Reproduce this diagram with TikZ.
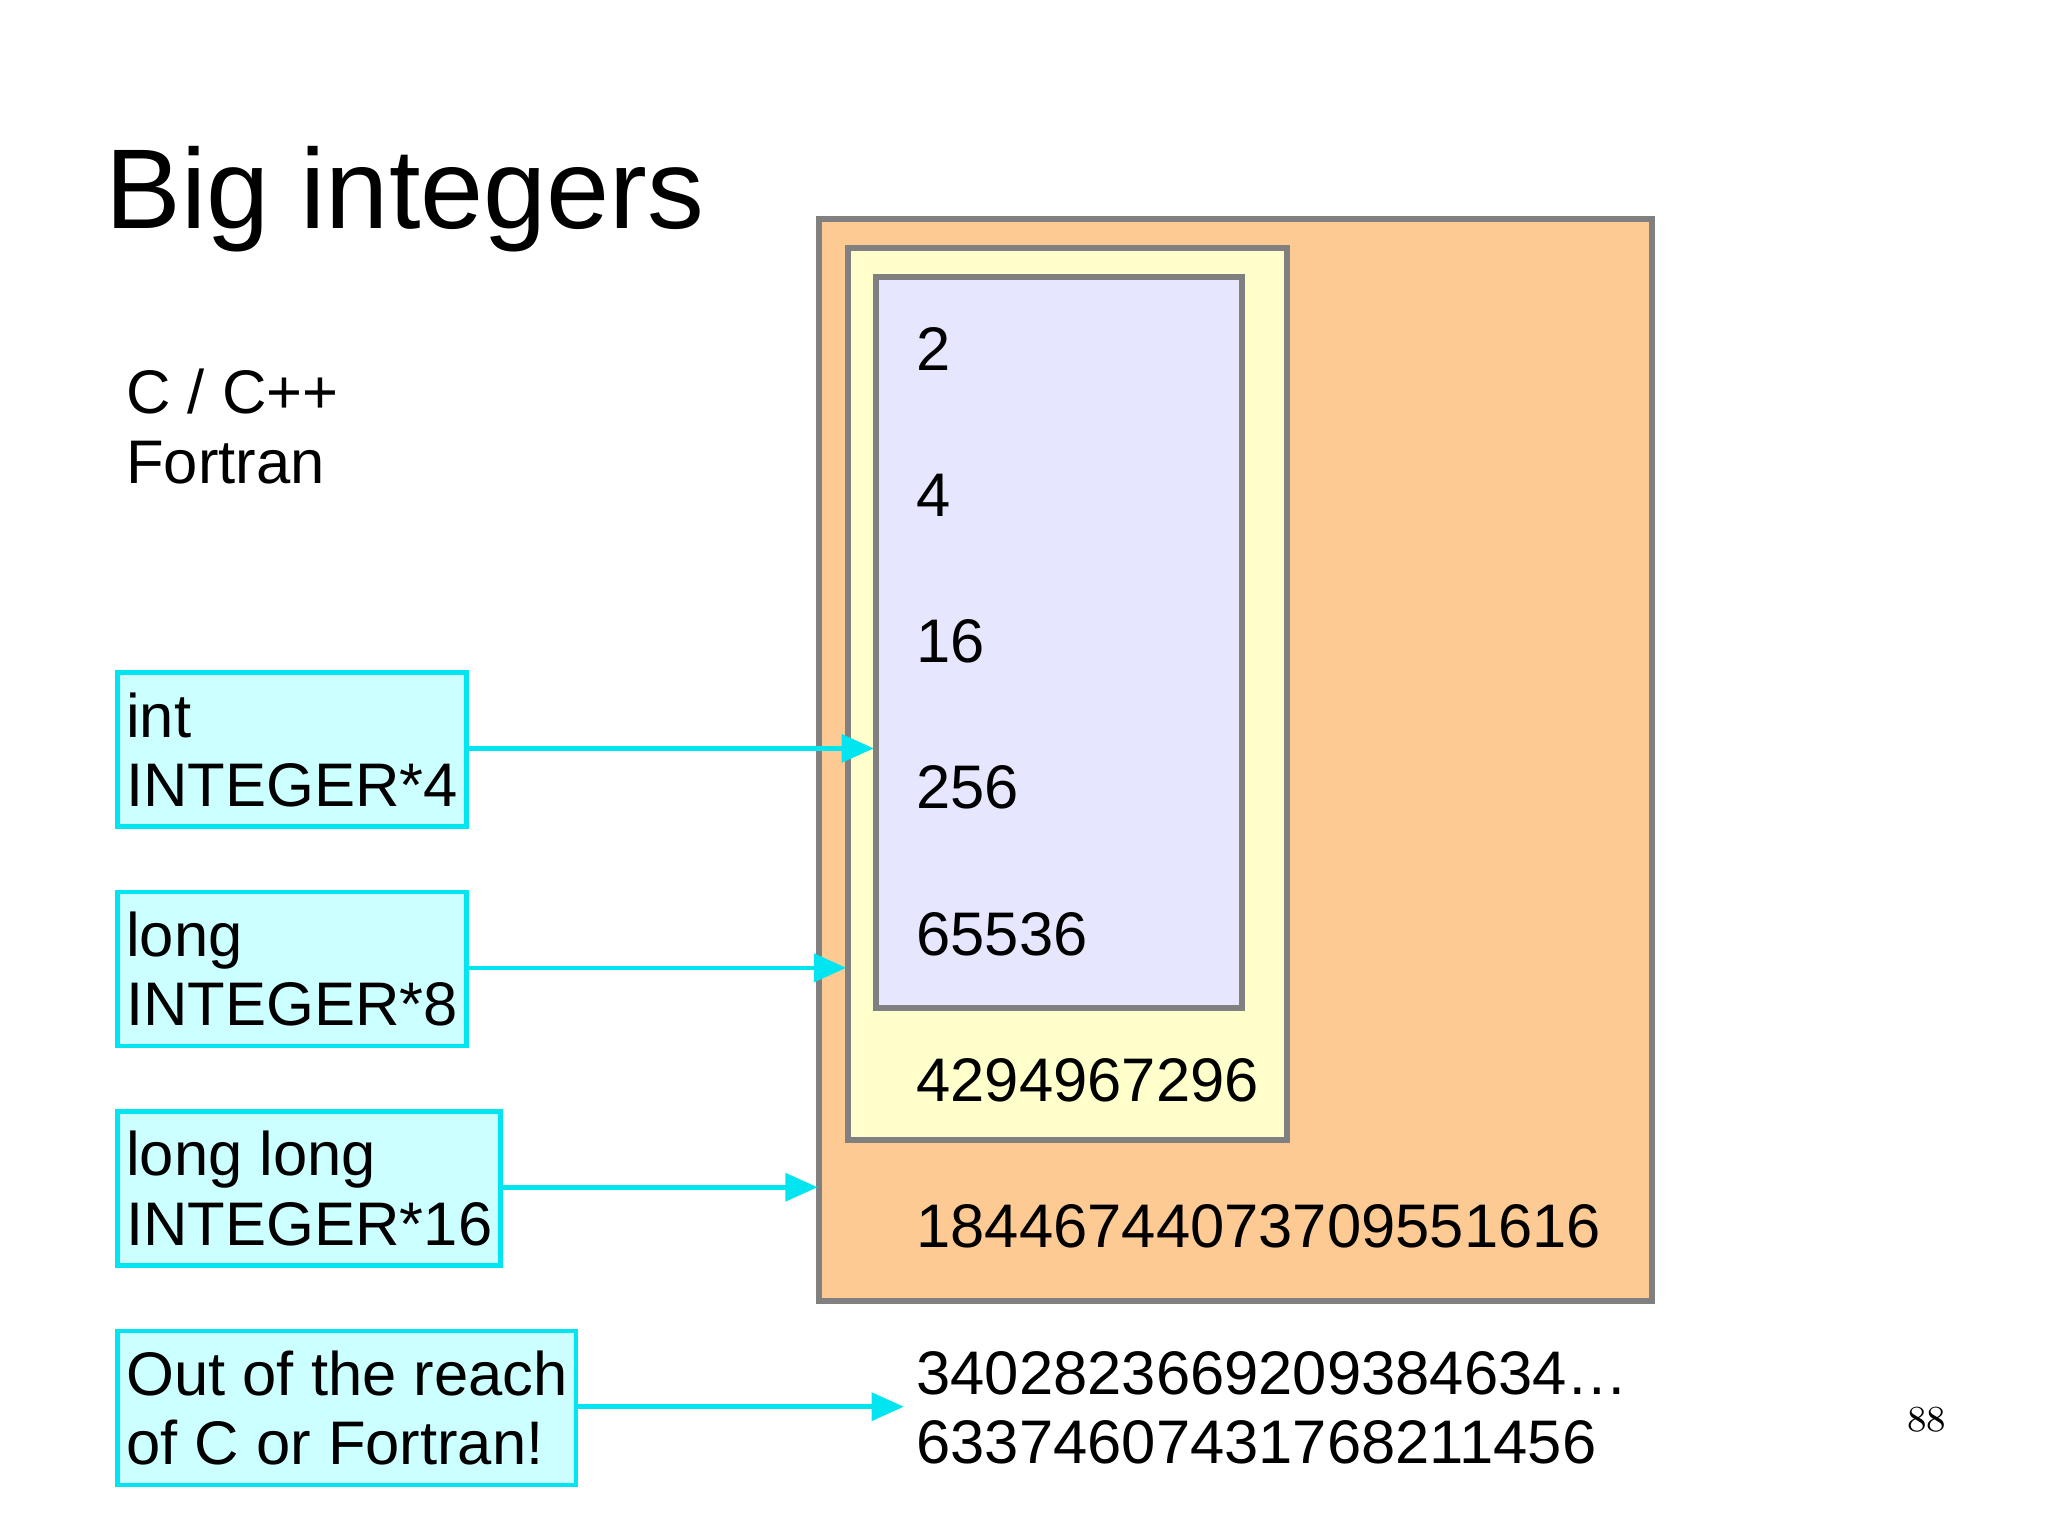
\documentclass[tikz,border=0pt]{standalone}
\usepackage{fontspec}
\setmainfont{Liberation Sans}
\usetikzlibrary{arrows.meta}
\definecolor{orng}{HTML}{FDCA94}
\definecolor{yel}{HTML}{FFFFCC}
\definecolor{lav}{HTML}{E6E6FF}
\definecolor{cyb}{HTML}{CCFFFF}
\definecolor{cyl}{HTML}{00E5F0}
\definecolor{brd}{HTML}{808080}
\begin{document}
\begin{tikzpicture}[x=0.01cm,y=-0.01cm,
  box/.style={draw=brd,line width=1.3pt},
  lab/.style={draw=cyl,fill=cyb,line width=1pt,anchor=north west,inner sep=0pt},
  txt/.style={font=\fontsize{13.4}{15.1}\selectfont,anchor=west,inner sep=0pt,align=left},
  arr/.style={draw=cyl,line width=1pt,-{Triangle[length=7pt,width=6pt]}}]
\useasboundingbox (0,0) rectangle (1568,1176);
\node[anchor=base west,inner sep=0pt,font=\fontsize{24.7}{26}\selectfont] (title) at (80,175) {Big integers};
\node[txt,anchor=north west] (lang) at (96,282) {C / C++\\Fortran};
\draw[box,fill=orng] (627,168) rectangle (1265,996);
\draw[box,fill=yel] (649,190) rectangle (985,873);
\draw[box,fill=lav] (671,212) rectangle (951,772);
\coordinate (tint) at (669,573);
\coordinate (tlong) at (648,741);
\coordinate (tll) at (626,909);
\coordinate (tout) at (692,1077);
\foreach \n/\y/\t in {a/267/2,b/379/4,c/491/16,d/603/256,e/715/65536,f/827/4294967296,g/939/18446744073709551616}
  \node[txt] (n\n) at (701,\y) {\t};
\node[txt] (nh) at (701,1078) {3402823669209384634\ldots\\63374607431768211456};
\path[lab] (90,515) rectangle (357,633);
\path[lab] (90,683) rectangle (357,801);
\path[lab] (90,851) rectangle (383,969);
\path[lab] (90,1019) rectangle (441,1137);
\node[txt] (lint) at (96,574) {int\\INTEGER*4};
\node[txt] (llong) at (96,742) {long\\INTEGER*8};
\node[txt] (lll) at (96,910) {long long\\INTEGER*16};
\node[txt] (lout) at (96,1078) {Out of the reach\\of C or Fortran!};
\coordinate (sint) at (357,573);
\coordinate (slong) at (357,741);
\coordinate (sll) at (383,909);
\coordinate (sout) at (441,1077);
\draw[arr] (sint) -- (tint);
\draw[arr] (slong) -- (tlong);
\draw[arr] (sll) -- (tll);
\draw[arr] (sout) -- (tout);
\node[font=\fontfamily{lmr}\fontsize{8}{9}\selectfont] (pg) at (1475,1087) {88};
\end{tikzpicture}
\end{document}
